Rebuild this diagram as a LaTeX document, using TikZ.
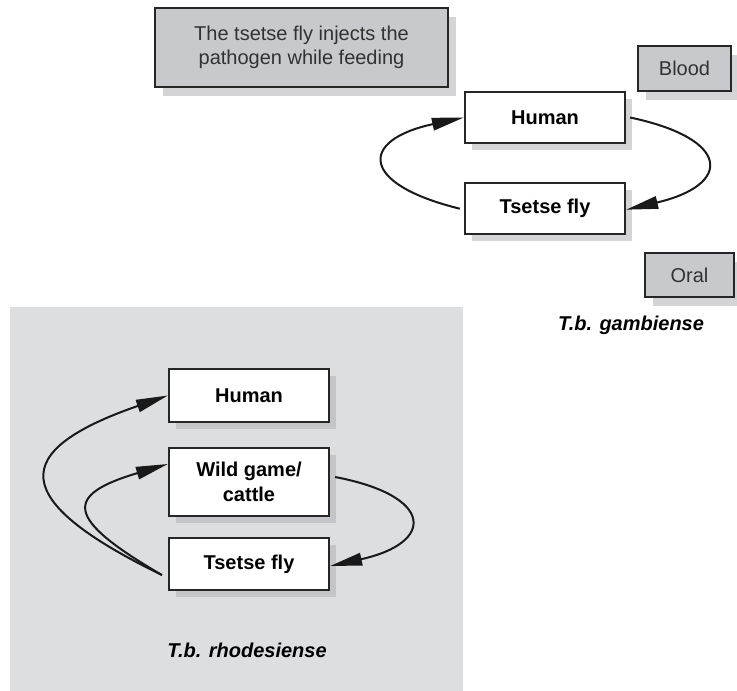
\documentclass[tikz,border=0pt]{standalone}
\usepackage{fontspec}
\setmainfont{Liberation Sans}
\usetikzlibrary{positioning, arrows.meta, shadows}

\definecolor{boxgray}{RGB}{200,201,204}
\definecolor{shadelight}{RGB}{212,212,214}
\definecolor{shadedark}{RGB}{196,197,200}
\definecolor{panelgray}{RGB}{221,222,224}
\definecolor{textgray}{RGB}{50,50,50}

\begin{document}
\begin{tikzpicture}[
    x=1pt, y=-1pt,
    font=\fontsize{20}{24.5}\selectfont,
    notebox/.style={
        draw=black!85, line width=2.2pt, fill=boxgray,
        text=textgray, align=center, inner sep=0pt,
        minimum width=#1,
        drop shadow={shadow xshift=8pt, shadow yshift=-9pt,
            fill=shadelight, opacity=1}
    },
    hostbox/.style={
        draw=black!85, line width=2.2pt, fill=white,
        font=\fontsize{20}{24.5}\selectfont\bfseries,
        align=center, inner sep=0pt,
        minimum width=160pt, minimum height=#1,
        drop shadow={shadow xshift=7pt, shadow yshift=-7pt,
            fill=shadelight, opacity=1}
    },
    panelhost/.style={
        hostbox=#1,
        drop shadow={shadow xshift=7pt, shadow yshift=-7pt,
            fill=shadedark, opacity=1}
    },
    speciestitle/.style={
        font=\fontsize{20}{24.5}\selectfont\bfseries\itshape
    },
    cyclearrow/.style={
        -{Triangle[length=32pt, width=12.5pt]},
        line width=2pt, draw=black!90
    }
]
\path[use as bounding box] (0,0) rectangle (737,691);

% --- Gray panel ---
\fill[panelgray] (10,307) rectangle (463,691);

% --- Notes ---
\node[notebox=293pt, minimum height=79pt] (inject) at (301.5,47.5)
    {The tsetse fly injects the\\pathogen while feeding};
\node[notebox=93pt, minimum height=45pt] (blood) at (684.5,68.5) {Blood};
\node[notebox=89pt, minimum height=44pt] (oral) at (689.5,275) {Oral};

% --- T.b. gambiense ---
\node[hostbox=51pt] (gamhum) at (545,117.5) {Human};
\node[hostbox=51pt, below=38pt of gamhum] (gamfly) {Tsetse fly};
\node[speciestitle] (gamname) at (631,325) {T.b. gambiense};

\draw[cyclearrow] ([xshift=-4pt]gamfly.west)
    .. controls (359,184) and (359,140) .. (gamhum.west);
\draw[cyclearrow] ([xshift=4pt]gamhum.east)
    .. controls (732,139) and (732,185) .. ([yshift=-1pt]gamfly.east);

% --- T.b. rhodesiense ---
\node[panelhost=53pt] (rhohum) at (249,395.5) {Human};
\node[panelhost=68pt] (rhogame) at (249,482) {Wild game/\\cattle};
\node[panelhost=52pt] (rhofly) at (249,564) {Tsetse fly};
\node[speciestitle] (rhoname) at (247,650) {T.b. rhodesiense};

\draw[cyclearrow] ([xshift=-6pt,yshift=-11pt]rhofly.west)
    .. controls (8,500) and (8,451) .. (rhohum.west);
\draw[cyclearrow] ([xshift=-6pt,yshift=-11pt]rhofly.west)
    .. controls (64,518) and (64,495) .. ([yshift=18pt]rhogame.west);
\draw[cyclearrow] ([xshift=5pt,yshift=5pt]rhogame.east)
    .. controls (435,496) and (435,543) .. ([yshift=-2pt]rhofly.east);

\end{tikzpicture}
\end{document}
